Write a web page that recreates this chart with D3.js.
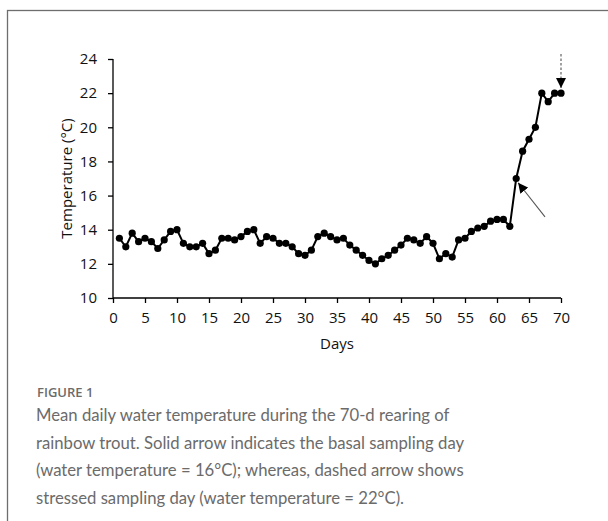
<!DOCTYPE html>
<html><head><meta charset="utf-8">
<script src="https://cdn.jsdelivr.net/npm/d3@7"></script>
<style>body{margin:0;background:#fff}svg{display:block}</style>
</head><body>
<script>
// Data
const days = d3.range(1, 71);
const temperature = [
 13.5,13.0,13.8,13.3,13.5,13.3,12.9,13.4,13.9,14.0,
 13.2,13.0,13.0,13.2,12.6,12.8,13.5,13.5,13.4,13.6,
 13.9,14.0,13.2,13.6,13.5,13.2,13.2,13.0,12.6,12.5,
 12.8,13.6,13.8,13.6,13.4,13.5,13.1,12.8,12.5,12.2,
 12.0,12.3,12.5,12.8,13.1,13.5,13.4,13.2,13.6,13.2,
 12.3,12.6,12.4,13.4,13.5,13.9,14.1,14.2,14.5,14.6,
 14.6,14.2,17.0,18.6,19.3,20.0,22.0,21.5,22.0,22.0];
const xTicks = [0,5,10,15,20,25,30,35,40,45,50,55,60,65,70];
const yTicks = [10,12,14,16,18,20,22,24];
const xTitle = "Days";
const yTitle = "Temperature (°C)";
// annotations: [fromDay, fromTemp, toDay, toTemp]
const solidArrow = [67.5, 14.75, 63.3, 16.75];
const dashedArrow = [70, 24.3, 70, 22.3];
const figLabel = "FIGURE 1";
const captionLines = [
 "Mean daily water temperature during the 70-d rearing of",
 "rainbow trout. Solid arrow indicates the basal sampling day",
 "(water temperature = 16°C); whereas, dashed arrow shows",
 "stressed sampling day (water temperature = 22°C)."];

const W = 608, H = 521;
const svg = d3.select("body").append("svg").attr("width", W).attr("height", H);

svg.append("rect").attr("x", 7.5).attr("y", 10.5).attr("width", 700).attr("height", 600)
  .attr("fill", "none").attr("stroke", "#6e6e6e").attr("stroke-width", 1.3);

const x = d3.scaleLinear().domain([0, 70]).range([113, 561]);
const y = d3.scaleLinear().domain([10, 24]).range([298, 59]);

const tickFont = "'Open Sans', sans-serif";
const fs = 15;

const xAxis = svg.append("g").attr("transform", `translate(0,${y(10)})`)
  .call(d3.axisBottom(x).tickValues(xTicks).tickSize(5).tickPadding(9).tickFormat(d3.format("d")));
const yAxis = svg.append("g").attr("transform", `translate(${x(0)},0)`)
  .call(d3.axisLeft(y).tickValues(yTicks).tickSize(5).tickPadding(11).tickFormat(d3.format("d")));
[xAxis, yAxis].forEach(g => {
  g.select(".domain").attr("stroke", "#000").attr("stroke-width", 1.3);
  g.selectAll(".tick line").attr("stroke", "#000").attr("stroke-width", 1.3);
  g.selectAll(".tick text").attr("font-family", tickFont).attr("font-size", fs).attr("fill", "#111");
});
xAxis.select(".domain").attr("d", `M${x(0)},0H${x(70)}`);
yAxis.select(".domain").attr("d", `M0,${y(24)}V${y(10)}`);

svg.append("text").attr("x", (x(0) + x(70)) / 2).attr("y", 349)
  .attr("text-anchor", "middle").attr("font-family", tickFont).attr("font-size", fs)
  .attr("fill", "#111").text(xTitle);
svg.append("text").attr("transform", `translate(72,${(y(10)+y(24))/2}) rotate(-90)`)
  .attr("text-anchor", "middle").attr("font-family", tickFont).attr("font-size", fs)
  .attr("fill", "#111").text(yTitle);

const pts = days.map((d, i) => [d, temperature[i]]);
svg.append("path").datum(pts)
  .attr("d", d3.line().x(d => x(d[0])).y(d => y(d[1])))
  .attr("fill", "none").attr("stroke", "#000").attr("stroke-width", 2);
svg.append("g").selectAll("circle").data(pts).join("circle")
  .attr("cx", d => x(d[0])).attr("cy", d => y(d[1])).attr("r", 3.6).attr("fill", "#000");

const defs = svg.append("defs");
defs.append("marker").attr("id", "ah").attr("viewBox", "0 0 10 10").attr("refX", 10).attr("refY", 5)
  .attr("markerWidth", 10).attr("markerHeight", 10).attr("markerUnits", "userSpaceOnUse")
  .attr("orient", "auto").append("path").attr("d", "M0,0L10,5L0,10Z").attr("fill", "#000");

svg.append("line").attr("x1", x(solidArrow[0])).attr("y1", y(solidArrow[1]))
  .attr("x2", x(solidArrow[2])).attr("y2", y(solidArrow[3]))
  .attr("stroke", "#555").attr("stroke-width", 1.1).attr("marker-end", "url(#ah)");
svg.append("line").attr("x1", x(dashedArrow[0])).attr("y1", y(dashedArrow[1]))
  .attr("x2", x(dashedArrow[2])).attr("y2", y(dashedArrow[3]))
  .attr("stroke", "#555").attr("stroke-width", 1.1).attr("stroke-dasharray", "2.5,2")
  .attr("marker-end", "url(#ah)");

svg.append("text").attr("x", 37).attr("y", 397).attr("font-family", "'Open Sans', sans-serif")
  .attr("font-size", 13).attr("font-weight", 600).attr("fill", "#6b6b6b").text(figLabel);
svg.append("g").selectAll("text").data(captionLines).join("text")
  .attr("x", 36).attr("y", (d, i) => 421 + i * 27.7)
  .attr("font-family", "Lato, sans-serif").attr("font-size", 16.7)
  .attr("fill", "#6b6b6b").text(d => d);
</script>
</body></html>
